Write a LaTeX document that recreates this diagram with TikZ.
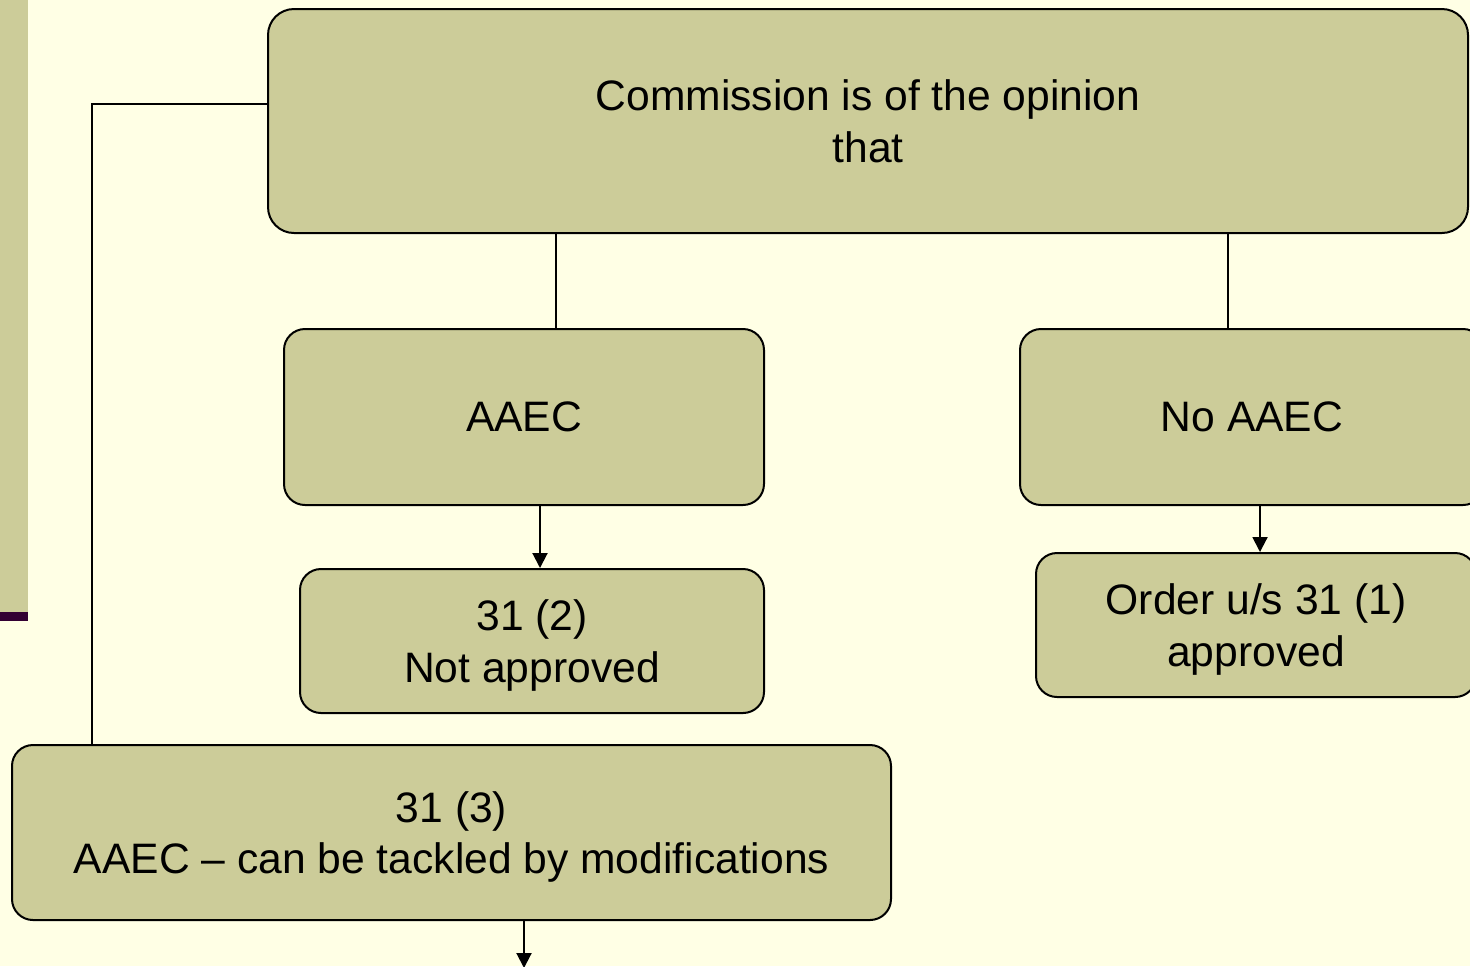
\documentclass[tikz,border=0pt]{standalone}
\usepackage{fontspec}
\setmainfont{Liberation Sans}
\usetikzlibrary{arrows.meta}
\definecolor{paper}{HTML}{FFFFE5}
\definecolor{khaki}{HTML}{CCCC99}
\definecolor{plum}{HTML}{330033}
\begin{document}
\begin{tikzpicture}[x=0.5pt,y=-0.5pt,
  box/.style={draw=black, line width=1pt, fill=khaki, rounded corners=10.5pt,
              align=center, inner sep=0pt, text depth=0pt,
              font=\fontsize{21.3}{25.8}\selectfont},
  link/.style={draw=black, line width=1pt},
  arr/.style={link, -{Triangle[width=7.5pt,length=7.5pt]}}]
\useasboundingbox (0,0) rectangle (1470,966);
\clip (0,0) rectangle (1470,966);
% page background and side band
\fill[paper] (0,0) rectangle (1470,966);
\fill[khaki] (0,0) rectangle (28,612);
\fill[plum] (0,612) rectangle (28,621);

% boxes
\node[box, rounded corners=13pt, minimum width=600pt, minimum height=112pt]
  (top) at (868,121) {Commission is of the opinion\\that};
\node[box, minimum width=240pt, minimum height=88pt]
  (aaec) at (524,417) {AAEC};
\node[box, minimum width=232pt, minimum height=88pt]
  (noaaec) at (1252,417) {No AAEC};
\node[box, minimum width=232pt, minimum height=72pt]
  (notappr) at (532,641) {31 (2)\\Not approved};
\node[box, minimum width=220pt, minimum height=72pt]
  (order) at (1256,625) {Order u/s 31 (1)\\approved};
\node[box, minimum width=439.5pt, minimum height=87.5pt]
  (modif) at (451.5,832.5) {31 (3)\\AAEC -- can be tackled by modifications};

% connector guide points
\coordinate (xa) at (556,0);
\coordinate (xb) at (1228,0);
\coordinate (xc) at (540,0);
\coordinate (xd) at (1260,0);
\coordinate (xe) at (524,0);
\coordinate (lk) at (92,104);
\coordinate (out) at (524,968);

% connectors
\draw[link] (top.south -| xa) -- (aaec.north -| xa);
\draw[link] (top.south -| xb) -- (noaaec.north -| xb);
\draw[arr] (aaec.south -| xc) -- (notappr.north -| xc);
\draw[arr] (noaaec.south -| xd) -- (order.north -| xd);
\draw[link] (lk -| top.west) -- (lk) -- (lk |- modif.north);
\draw[arr] (modif.south -| xe) -- (out);
\end{tikzpicture}
\end{document}
